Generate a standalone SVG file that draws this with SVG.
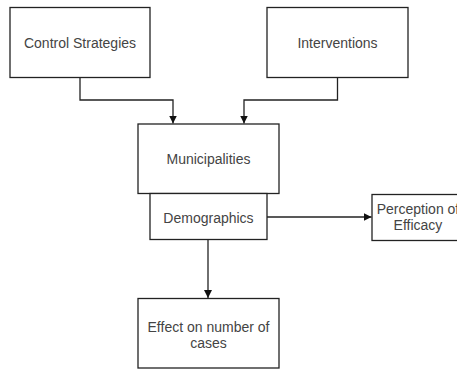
<svg xmlns="http://www.w3.org/2000/svg" width="457" height="369" viewBox="0 0 457 369">
<style>
.box{fill:#fff;stroke:#222;stroke-width:1.3}
.lbl{font-family:"Liberation Sans",Arial,sans-serif;font-size:14px;fill:#444;text-anchor:middle}
.edge{fill:none;stroke:#222;stroke-width:1.3}
</style>
<defs>
<marker id="ah" viewBox="0 0 10 10" refX="10" refY="5" markerWidth="8" markerHeight="8" markerUnits="userSpaceOnUse" orient="auto">
<path d="M0,0 L10,5 L0,10 Z" fill="#111"/>
</marker>
</defs>
<rect width="457" height="369" fill="#fff"/>
<g id="connectors">
<path class="edge" d="M80,77.5 V100 H173 V123.5" marker-end="url(#ah)"/>
<path class="edge" d="M337.5,77.5 V100 H244 V123.5" marker-end="url(#ah)"/>
<path class="edge" d="M267,217 H371.5" marker-end="url(#ah)"/>
<path class="edge" d="M208,239.5 V298" marker-end="url(#ah)"/>
</g>
<g id="control-strategies">
<rect class="box" x="10" y="7.5" width="140" height="70"/>
<text class="lbl" x="80" y="48">Control Strategies</text>
</g>
<g id="interventions">
<rect class="box" x="267" y="7.5" width="141" height="70"/>
<text class="lbl" x="337.5" y="48">Interventions</text>
</g>
<g id="municipalities">
<rect class="box" x="138" y="124" width="141" height="69.5"/>
<text class="lbl" x="208.5" y="164">Municipalities</text>
</g>
<g id="demographics">
<rect class="box" x="150" y="193.5" width="117" height="46"/>
<text class="lbl" x="208.5" y="223">Demographics</text>
</g>
<g id="perception">
<rect class="box" x="372" y="194.5" width="92" height="46"/>
<text class="lbl" x="418" y="214">Perception of</text>
<text class="lbl" x="418" y="230">Efficacy</text>
</g>
<g id="effect">
<rect class="box" x="138" y="298.5" width="141" height="69.5"/>
<text class="lbl" x="208.5" y="332">Effect on number of</text>
<text class="lbl" x="208.5" y="348">cases</text>
</g>
</svg>
